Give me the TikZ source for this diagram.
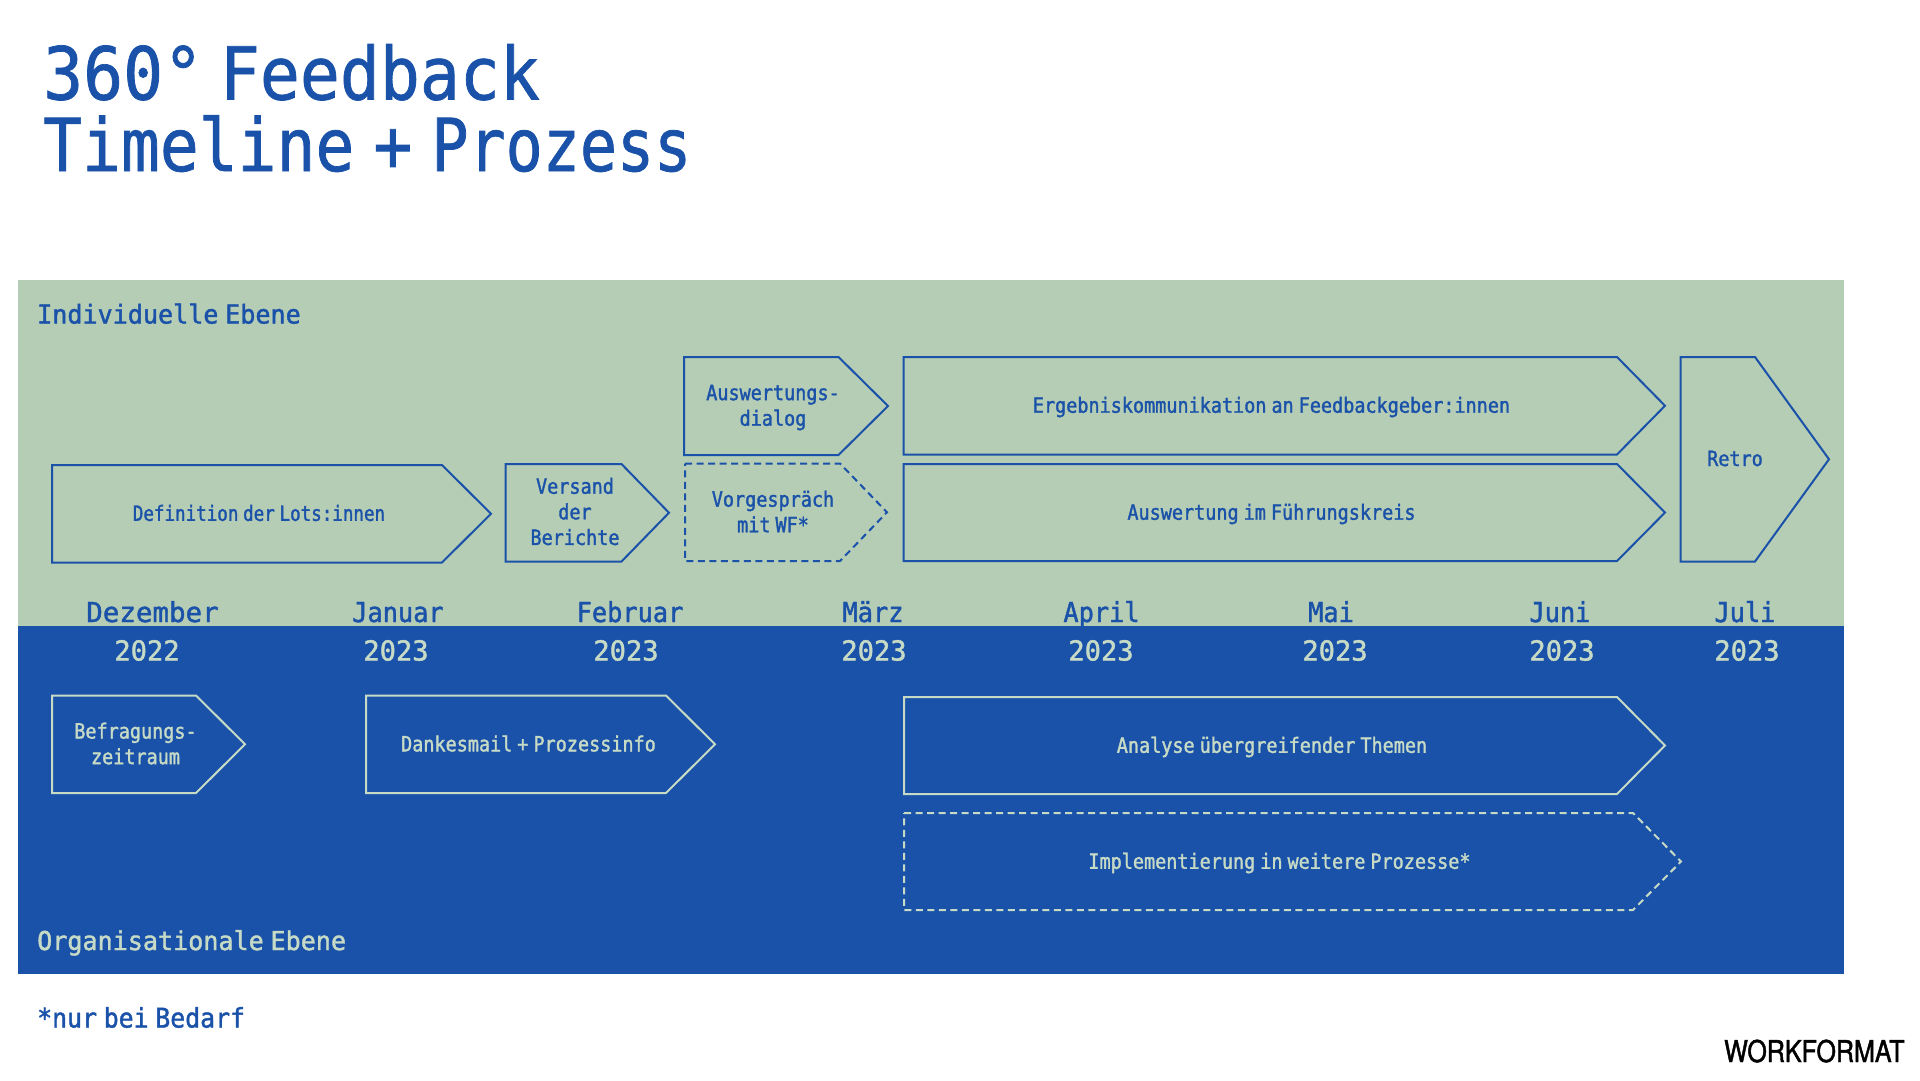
\documentclass[tikz,border=0pt]{standalone}
\usepackage{fontspec}
\newfontfamily\ftitle[FakeStretch=.91,WordSpace=.42,FakeBold=1]{DejaVu Sans Mono}
\newfontfamily\ftitleb[FakeStretch=.885,WordSpace=.49,FakeBold=1]{DejaVu Sans Mono}
\newfontfamily\ftitlec[FakeStretch=.845,FakeBold=1]{DejaVu Sans Mono}
\newfontfamily\fbody[FakeStretch=.88,WordSpace=.45,FakeBold=1.5]{DejaVu Sans Mono}
\newfontfamily\fbodyn[FakeStretch=.835,WordSpace=.45,FakeBold=1.5]{DejaVu Sans Mono}
\newfontfamily\flabel[FakeStretch=.965,WordSpace=.45,FakeBold=1.5]{DejaVu Sans Mono}
\newfontfamily\fmonth[FakeStretch=.92,FakeBold=1.5]{DejaVu Sans Mono}
\newfontfamily\fmonthwide[FakeStretch=1,FakeBold=1.5]{DejaVu Sans Mono}
\newfontfamily\fyear[FakeStretch=.985,FakeBold=1.5]{DejaVu Sans Mono}
\newfontfamily\fnote[FakeStretch=.92,WordSpace=.45,FakeBold=1.5]{DejaVu Sans Mono}
\newfontfamily\flogo[FakeStretch=.835,FakeBold=1.5]{TeX Gyre Heros}
\definecolor{wfgreen}{HTML}{B5CCB5}
\definecolor{wfblue}{HTML}{1A52A9}
\definecolor{wflight}{HTML}{C6DAC6}
\tikzset{
  x=1pt,y=-1pt,
  titletext/.style={anchor=base west,inner sep=0pt,text=wfblue},
  labeltext/.style={anchor=base west,inner sep=0pt,font=\flabel\fontsize{26}{30}\selectfont},
  monthtext/.style={anchor=base,inner sep=0pt,text=wfblue,font=\fmonth\fontsize{27.5}{30}\selectfont},
  yeartext/.style={anchor=base,inner sep=0pt,text=wflight,font=\fyear\fontsize{27.5}{30}\selectfont},
  boxtext/.style={anchor=center,inner sep=0pt,align=center,font=\fbody\fontsize{21}{25.6}\selectfont},
  onGreen/.style={draw=wfblue,line width=2pt,line join=miter},
  onBlue/.style={draw=wflight,line width=2pt,line join=miter},
  dashline/.style={dash pattern=on 7pt off 4.5pt},
}
% options, x left, x shoulder, x tip, y top, y bottom
\newcommand{\arrowbox}[6]{\draw[#1] (#2,#5) -- (#3,#5) -- (#4,{(#5+#6)/2}) -- (#3,#6) -- (#2,#6) -- cycle;}
\begin{document}
\begin{tikzpicture}
\useasboundingbox (0,0) rectangle (1920,1080);
\fill[white] (0,0) rectangle (1920,1080);
\fill[wfgreen] (18,280) rectangle (1844,626);
\fill[wfblue] (18,626) rectangle (1844,974);

\node[titletext,font=\ftitle\fontsize{73}{73}\selectfont] (t1) at (43,99.5) {360° Feedback};
\node[titletext,font=\ftitleb\fontsize{73}{73}\selectfont] (t2) at (43,171) {Timeline + {\ftitlec\fontsize{73}{73}\selectfont Prozess}};

\node[labeltext,text=wfblue] (indiv) at (37,323.5) {Individuelle Ebene};
\node[labeltext,text=wflight] (orga) at (37,950) {Organisationale Ebene};
\node[anchor=base west,inner sep=0pt,text=wfblue,font=\fnote\fontsize{27}{30}\selectfont] (note) at (37,1027.5) {*nur bei Bedarf};

% upper arrows
\arrowbox{onGreen}{52}{442}{491}{465}{562.5}
\arrowbox{onGreen}{505.5}{621.5}{669}{464}{561.5}
\arrowbox{onGreen}{684}{838.5}{888}{357}{455}
\arrowbox{onGreen,dashline}{685}{840}{887}{463.5}{561}
\arrowbox{onGreen}{903.5}{1617}{1665}{357}{454.5}
\arrowbox{onGreen}{903.5}{1617}{1665}{464}{561}
\arrowbox{onGreen}{1680.5}{1755}{1829}{357}{561.5}

\node[boxtext,text=wfblue,font=\fbodyn\fontsize{21}{25.6}\selectfont] (b1) at (259,513) {Definition der Lots:innen};
\node[boxtext,text=wfblue] (b2) at (575,511.5) {Versand\\der\\Berichte};
\node[boxtext,text=wfblue] (b3) at (773,407.5) {Auswertungs-\\dialog};
\node[boxtext,text=wfblue] (b4) at (773,511.5) {Vorgespräch\\mit WF*};
\node[boxtext,text=wfblue] (b5) at (1271.5,407) {Ergebniskommunikation an Feedbackgeber:innen};
\node[boxtext,text=wfblue] (b6) at (1271.5,514) {Auswertung im Führungskreis};
\node[boxtext,text=wfblue] (b7) at (1735,458.5) {Retro};

% lower arrows
\arrowbox{onBlue}{52}{196}{245}{695.5}{793}
\arrowbox{onBlue}{366}{666}{715}{695.5}{793}
\arrowbox{onBlue}{904}{1617}{1665}{697}{794}
\arrowbox{onBlue,dashline}{904}{1633}{1681}{813}{910}

\node[boxtext,text=wflight] (c1) at (135.5,743.5) {Befragungs-\\zeitraum};
\node[boxtext,text=wflight] (c2) at (528.5,743.5) {Dankesmail + Prozessinfo};
\node[boxtext,text=wflight] (c3) at (1272,747) {Analyse übergreifender Themen};
\node[boxtext,text=wflight] (c4) at (1279.5,863) {Implementierung in weitere Prozesse*};

% months
\node[monthtext,font=\fmonthwide\fontsize{27.5}{30}\selectfont] (m1) at (152.5,622) {Dezember};
\node[monthtext] (m2) at (398,622) {Januar};
\node[monthtext] (m3) at (630,622) {Februar};
\node[monthtext] (m4) at (873,622) {März};
\node[monthtext] (m5) at (1101.5,622) {April};
\node[monthtext] (m6) at (1331,622) {Mai};
\node[monthtext] (m7) at (1560,622) {Juni};
\node[monthtext] (m8) at (1745,622) {Juli};

% years
\node[yeartext] (y1) at (147,660.5) {2022};
\node[yeartext] (y2) at (396,660.5) {2023};
\node[yeartext] (y3) at (626,660.5) {2023};
\node[yeartext] (y4) at (874,660.5) {2023};
\node[yeartext] (y5) at (1101,660.5) {2023};
\node[yeartext] (y6) at (1335,660.5) {2023};
\node[yeartext] (y7) at (1562,660.5) {2023};
\node[yeartext] (y8) at (1747,660.5) {2023};

\node[anchor=base west,inner sep=0pt,text=black,font=\flogo\fontsize{30}{30}\selectfont] (logo) at (1724,1062) {WORKFORMAT};
\end{tikzpicture}
\end{document}
